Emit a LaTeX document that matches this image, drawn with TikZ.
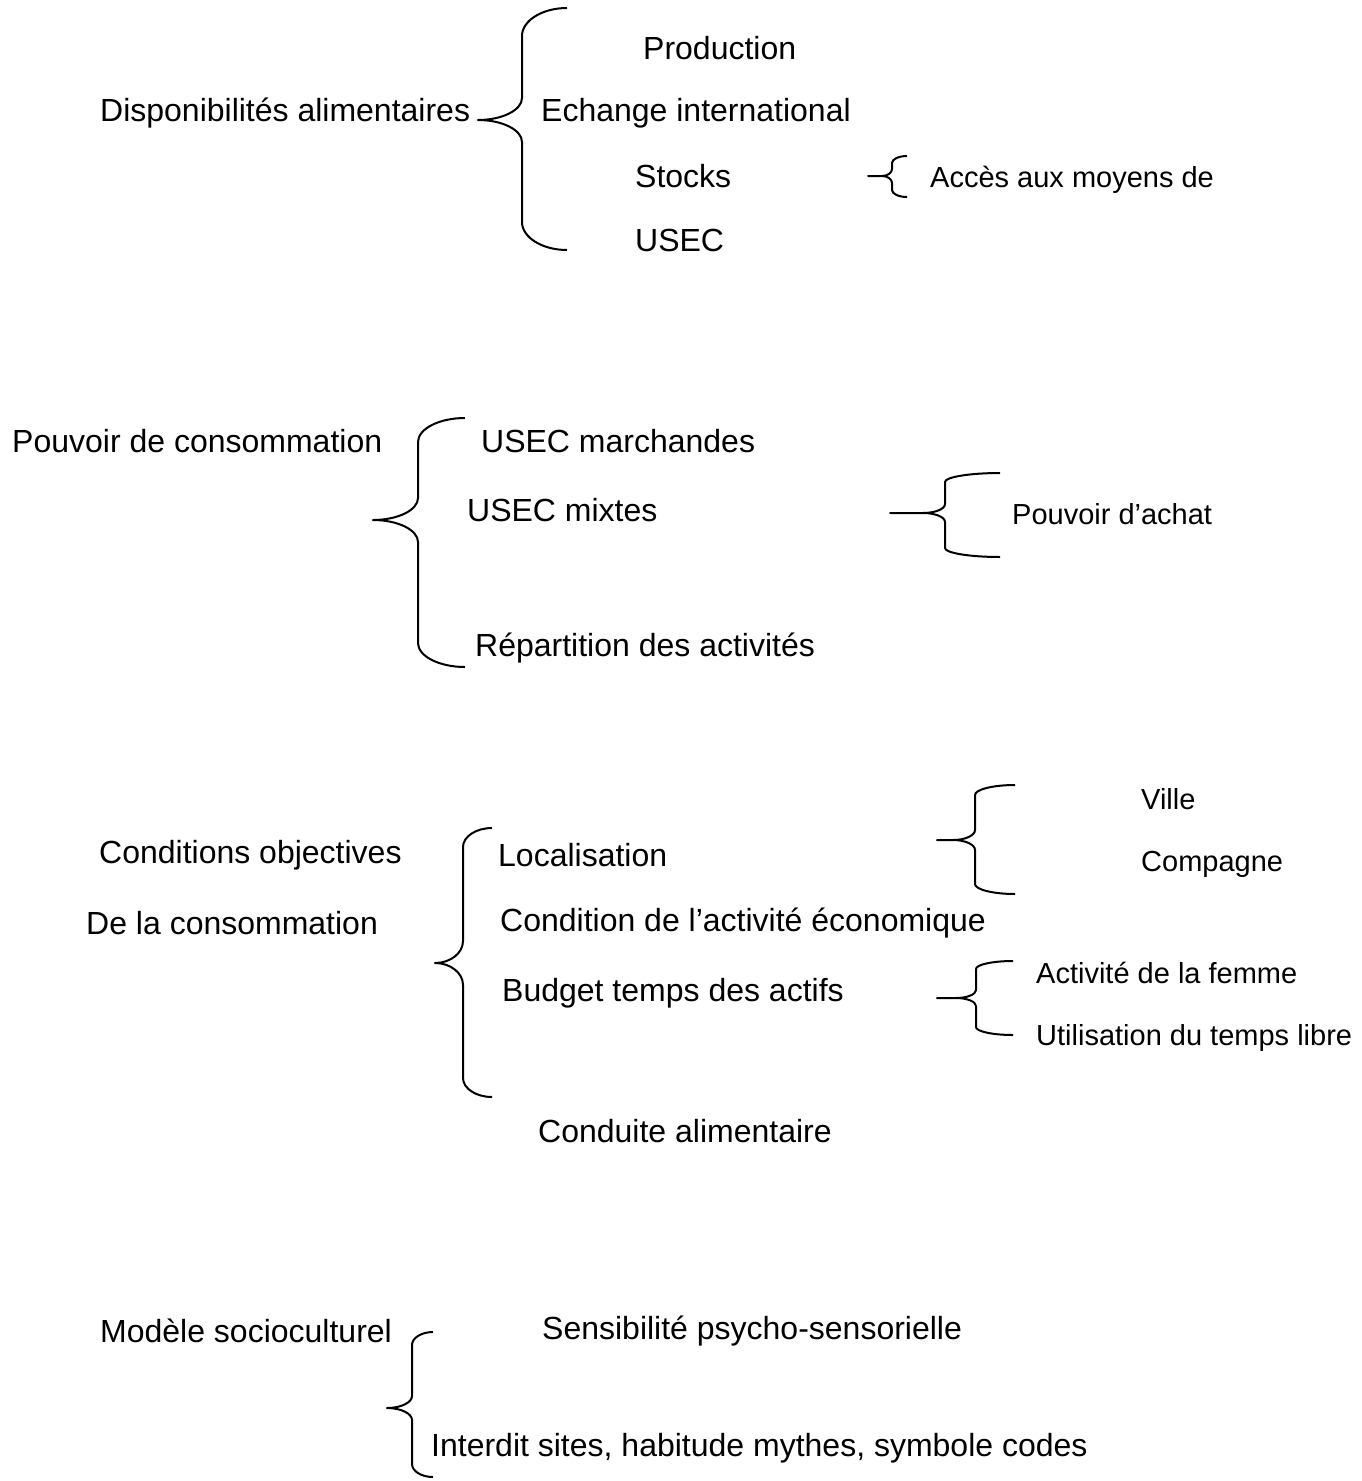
\documentclass[tikz,border=0pt]{standalone}
\usepackage{fontspec}
\setmainfont{Liberation Sans}
% args: end x, spine x, tip x, top y, tip y, bottom y, end-curve height, tip-curve height, tip-curve width
\newcommand{\mybrace}[9]{%
  \draw[bracestyle] (#1,#4)
    .. controls ({#2+0.45*(#1-#2)},#4) and (#2,{#4+0.45*#7}) .. (#2,#4+#7)
    -- (#2,#5-#8)
    .. controls (#2,{#5-0.45*#8}) and ({#2-0.45*#9},#5) .. (#2-#9,#5)
    -- (#3,#5) -- (#2-#9,#5)
    .. controls ({#2-0.45*#9},#5) and (#2,{#5+0.45*#8}) .. (#2,#5+#8)
    -- (#2,#6-#7)
    .. controls (#2,{#6-0.45*#7}) and ({#2+0.45*(#1-#2)},#6) .. (#1,#6);}
\begin{document}
\begin{tikzpicture}[x=1pt,y=-1pt,
  bracestyle/.style={line width=2pt,line join=round},
  big/.style={anchor=west,inner sep=0pt,font=\fontsize{32}{38}\selectfont},
  small/.style={anchor=west,inner sep=0pt,font=\fontsize{29}{35}\selectfont}]
\useasboundingbox (0,0) rectangle (1361,1481);
% block 1
\node[big] (prod) at (643,48) {Production};
\node[big] (dispo) at (100,113) {Disponibilités alimentaires};
\node[big] (echange) at (541,113) {Echange international};
\node[big] (stocks) at (635,176) {Stocks};
\node[big] (usec) at (635,240) {USEC};
\node[small] (acces) at (930,180) {Accès aux moyens de};
\mybrace{567}{522}{478}{8}{120}{250}{28}{22}{44}
\mybrace{907}{892}{868}{156}{176}{197}{7}{7}{10}
% block 2
\node[big] (pouvoir) at (12,441) {Pouvoir de consommation};
\node[big] (usecm) at (481,441) {USEC marchandes};
\node[big] (usecx) at (467,510) {USEC mixtes};
\node[small] (achat) at (1012,514) {Pouvoir d’achat};
\node[big] (repart) at (475,648) {Répartition des activités};
\mybrace{465}{418}{373}{418}{520}{667}{24}{22}{45}
\mybrace{1000}{945}{890}{473}{513}{557}{9}{9}{22}
% block 3
\node[small] (ville) at (1141,799) {Ville};
\node[small] (compagne) at (1141,864) {Compagne};
\node[big] (cond) at (99,855) {Conditions objectives};
\node[big] (local) at (498,855) {Localisation};
\node[big] (delacons) at (86,923) {De la consommation};
\node[big] (condact) at (500,923) {Condition de l’activité économique};
\node[big] (budget) at (502,993) {Budget temps des actifs};
\node[small] (femme) at (1036,973) {Activité de la femme};
\node[small] (utilis) at (1036,1038) {Utilisation du temps libre};
\node[big] (conduite) at (538,1131) {Conduite alimentaire};
\mybrace{492}{463}{435}{828}{963}{1097}{19}{22}{28}
\mybrace{1015}{975}{937}{785}{840}{894}{10}{10}{22}
\mybrace{1013}{976}{937}{961}{998}{1035}{8}{8}{20}
% block 4
\node[big] (modele) at (100,1331) {Modèle socioculturel};
\node[big] (sensib) at (542,1331) {Sensibilité psycho-sensorielle};
\node[big] (interdit) at (431,1448) {Interdit sites, habitude mythes, symbole codes};
\mybrace{433}{412}{387}{1332}{1408}{1477}{13}{12}{25}
\end{tikzpicture}
\end{document}
